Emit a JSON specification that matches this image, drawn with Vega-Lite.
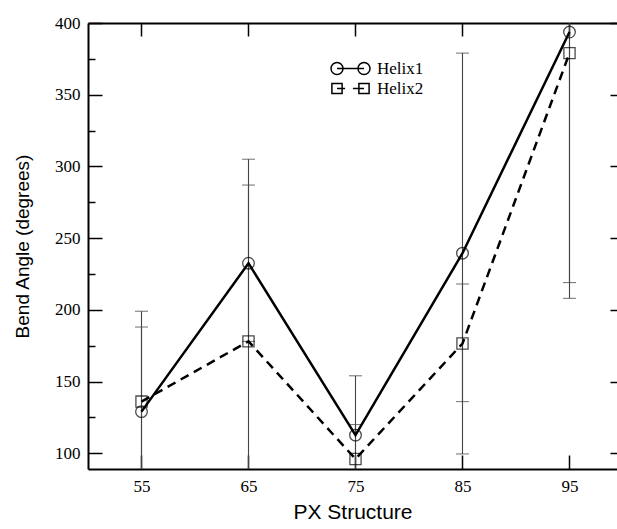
{
  "$schema": "https://vega.github.io/schema/vega-lite/v6.json",
  "autosize": "none",
  "width": 529,
  "height": 446,
  "padding": {"left": 88, "top": 23, "right": 0, "bottom": 60},
  "background": "white",
  "config": {"view": {"stroke": null}},
  "data": {"values": [
    {"series": "Helix1", "x": 55, "y": 129, "lo": 70, "hi": 188},
    {"series": "Helix1", "x": 65, "y": 232.5, "lo": 178, "hi": 287},
    {"series": "Helix1", "x": 75, "y": 112.6, "lo": 71, "hi": 154},
    {"series": "Helix1", "x": 85, "y": 239.5, "lo": 99.5, "hi": 379},
    {"series": "Helix1", "x": 95, "y": 393.7, "lo": 219, "hi": 568},
    {"series": "Helix2", "x": 55, "y": 136, "lo": 73, "hi": 199},
    {"series": "Helix2", "x": 65, "y": 178, "lo": 51, "hi": 305},
    {"series": "Helix2", "x": 75, "y": 96, "lo": 72, "hi": 120},
    {"series": "Helix2", "x": 85, "y": 176.5, "lo": 136, "hi": 218},
    {"series": "Helix2", "x": 95, "y": 379, "lo": 208, "hi": 550}
  ]},
  "resolve": {"axis": {"x": "independent", "y": "independent"}},
  "layer": [
    {
      "mark": {"type": "rule", "color": "#444", "strokeWidth": 1.1, "clip": true},
      "encoding": {
        "x": {"field": "x", "type": "quantitative",
          "scale": {"domain": [50, 99.44], "nice": false, "zero": false},
          "axis": {"orient": "bottom", "values": [55, 65, 75, 85, 95], "tickSize": -14, "tickColor": "black", "tickWidth": 1.5,
            "domainColor": "black", "domainWidth": 2, "grid": false, "labelFont": "Liberation Serif", "labelFontSize": 17,
            "labelColor": "black", "labelPadding": 23, "title": "PX Structure", "titleFont": "Liberation Sans", "titleFontSize": 21,
            "titleFontWeight": "normal", "titleColor": "black", "titlePadding": 7}},
        "y": {"field": "lo", "type": "quantitative",
          "scale": {"domain": [89, 400], "nice": false, "zero": false},
          "axis": {"orient": "left", "values": [100, 125, 150, 175, 200, 225, 250, 275, 300, 325, 350, 375, 400],
            "tickSize": {"condition": {"test": "datum.value % 50 === 0", "value": -14}, "value": -7},
            "tickColor": "black", "tickWidth": 1.5, "domainColor": "black", "domainWidth": 2, "grid": false,
            "labelExpr": "datum.value % 50 === 0 ? datum.label : ''",
            "labelFont": "Liberation Serif", "labelFontSize": 17, "labelColor": "black", "labelPadding": 22,
            "title": "Bend Angle (degrees)", "titleFont": "Liberation Sans", "titleFontSize": 19,
            "titleFontWeight": "normal", "titleColor": "black", "titlePadding": 22}},
        "y2": {"field": "hi"}
      }
    },
    {
      "mark": {"type": "tick", "orient": "horizontal", "color": "#444", "thickness": 1.1, "size": 13, "clip": true},
      "encoding": {
        "x": {"field": "x", "type": "quantitative", "axis": null},
        "y": {"field": "lo", "type": "quantitative", "axis": null}
      }
    },
    {
      "mark": {"type": "tick", "orient": "horizontal", "color": "#444", "thickness": 1.1, "size": 13, "clip": true},
      "encoding": {
        "x": {"field": "x", "type": "quantitative", "axis": null},
        "y": {"field": "hi", "type": "quantitative", "axis": null}
      }
    },
    {
      "transform": [{"filter": "datum.series === 'Helix1'"}],
      "mark": {"type": "line", "color": "black", "strokeWidth": 2.5, "clip": true},
      "encoding": {
        "x": {"field": "x", "type": "quantitative",
          "axis": {"orient": "top", "values": [55, 65, 75, 85, 95], "tickSize": -13, "tickColor": "black", "tickWidth": 1.5,
            "domainColor": "black", "domainWidth": 2, "labels": false, "grid": false, "title": null}},
        "y": {"field": "y", "type": "quantitative",
          "axis": {"orient": "right", "offset": 7, "values": [100, 125, 150, 175, 200, 225, 250, 275, 300, 325, 350, 375, 400],
            "tickSize": {"condition": {"test": "datum.value % 50 === 0", "value": -14}, "value": -7},
            "tickColor": "black", "tickWidth": 1.5, "domain": false, "labels": false, "grid": false, "title": null}}
      }
    },
    {
      "transform": [{"filter": "datum.series === 'Helix2'"}],
      "mark": {"type": "line", "color": "black", "strokeWidth": 2.5, "strokeDash": [9, 6], "clip": true},
      "encoding": {
        "x": {"field": "x", "type": "quantitative", "axis": null},
        "y": {"field": "y", "type": "quantitative", "axis": null}
      }
    },
    {
      "transform": [{"filter": "datum.series === 'Helix1'"}],
      "mark": {"type": "point", "shape": "circle", "filled": false, "color": "black", "strokeWidth": 1.3, "size": 135, "clip": true},
      "encoding": {
        "x": {"field": "x", "type": "quantitative", "axis": null},
        "y": {"field": "y", "type": "quantitative", "axis": null}
      }
    },
    {
      "transform": [{"filter": "datum.series === 'Helix2'"}],
      "mark": {"type": "point", "shape": "square", "filled": false, "color": "black", "strokeWidth": 1.3, "size": 125, "clip": true},
      "encoding": {
        "x": {"field": "x", "type": "quantitative", "axis": null},
        "y": {"field": "y", "type": "quantitative", "axis": null}
      }
    },
    {
      "mark": {"type": "point", "filled": false, "color": "black", "opacity": 0},
      "encoding": {
        "x": {"field": "x", "type": "quantitative", "axis": null},
        "y": {"field": "y", "type": "quantitative", "axis": null},
        "shape": {"field": "series", "type": "nominal",
          "scale": {"domain": ["Helix1", "Helix2"], "range": [
            "M-3.25,0A1,1 0 1,0 -1.25,0A1,1 0 1,0 -3.25,0M1.25,0A1,1 0 1,0 3.25,0A1,1 0 1,0 1.25,0M-2.25,0L2.25,0",
            "M-3.1,-0.85h1.7v1.7h-1.7ZM1.4,-0.85h1.7v1.7h-1.7ZM-2.25,0L-0.9,0M0.4,0L2.25,0"]},
          "legend": {"orient": "none", "legendX": 254, "legendY": 37, "title": null, "padding": 0,
            "labelFont": "Liberation Serif", "labelFontSize": 17, "labelColor": "black", "symbolSize": 144, "labelOffset": 18,
            "rowPadding": 1,
            "encode": {"symbols": {
              "fill": {"value": "transparent"},
              "stroke": {"value": "black"},
              "strokeWidth": {"value": 1.4},
              "opacity": {"value": 1}
            }}}}
      }
    }
  ]
}
